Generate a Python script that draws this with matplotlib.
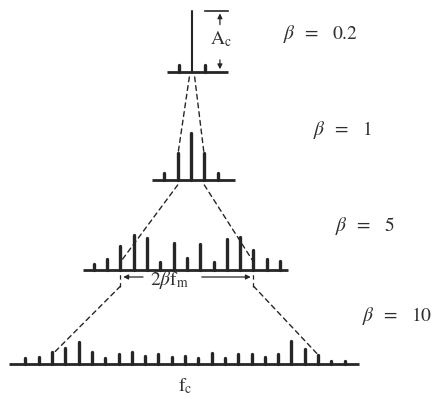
import matplotlib
matplotlib.use("Agg")
import matplotlib.pyplot as plt
from matplotlib.patches import ConnectionPatch

plt.rcParams["font.family"] = ["Liberation Serif", "DejaVu Serif"]
plt.rcParams["mathtext.fontset"] = "stix"

# Modulation indices, top to bottom
betas = [0.2, 1, 5, 10]
beta_labels = ["0.2", "1", "5", "10"]

# Spectral line order (multiples of f_m away from f_c) and relative amplitude
orders_02 = [-1, 0, 1]
amps_02 = [0.11, 0.99, 0.11]

orders_1 = [-2, -1, 0, 1, 2]
amps_1 = [0.11, 0.43, 0.76, 0.43, 0.11]

orders_5 = list(range(-7, 8))
amps_5 = [0.10, 0.17, 0.39, 0.56, 0.52, 0.13, 0.44, 0.19,
          0.42, 0.13, 0.50, 0.53, 0.32, 0.17, 0.14]

orders_10 = list(range(-12, 13))
amps_10 = [0.10, 0.11, 0.19, 0.26, 0.35, 0.19, 0.10, 0.16, 0.19, 0.13, 0.16, 0.11, 0.13,
           0.10, 0.18, 0.10, 0.16, 0.16, 0.11, 0.16, 0.37, 0.24, 0.15, 0.05, 0.05]

spectra = [(orders_02, amps_02), (orders_1, amps_1), (orders_5, amps_5), (orders_10, amps_10)]

# ---- layout (pixels) ----
W, H = 439, 403
PX_ORDER = 13.3      # horizontal pixels per f_m
PX_UNIT = 62.0       # vertical pixels per unit amplitude
ABOVE, BELOW = 75, 34
carrier_x = [192, 191, 187, 185]
baseline_y = [72, 180, 270, 364]
axis_span = [(-1.9, 2.7), (-2.9, 3.3), (-7.8, 7.6), (-13.2, 13.1)]
label_pos = [(283, 34), (313, 130), (335, 226), (362, 316)]

INK = "#262626"
TXT = "#2e2e2e"

fig = plt.figure(figsize=(W / 100, H / 100), dpi=100)
fig.patch.set_facecolor("white")

axes = []
for i, (orders, amps) in enumerate(spectra):
    cx, yb = carrier_x[i], baseline_y[i]
    ax = fig.add_axes([0, (H - yb - BELOW) / H, 1, (ABOVE + BELOW) / H])
    ax.set_xlim(-cx / PX_ORDER, (W - cx) / PX_ORDER)
    ax.set_ylim(-BELOW / PX_UNIT, ABOVE / PX_UNIT)
    ax.axis("off")
    ax.patch.set_alpha(0)

    lo, hi = axis_span[i]
    ax.plot([lo, hi], [0, 0], color=INK, lw=2.0, solid_capstyle="butt", clip_on=False)

    lw = [1.5 if (i == 0 and k == 0) else 2.4 for k in orders]
    bars = ax.vlines(orders, 0, amps, colors=INK, linewidths=lw, clip_on=False)
    bars.set_capstyle("round")
    axes.append(ax)

    lx, ly = label_pos[i]
    fig.text(lx / W, 1 - ly / H, r"$\beta\;\;=\;\;\;" + beta_labels[i] + "$",
             ha="left", va="center", fontsize=14, color=TXT)

ax1, ax2, ax3, ax4 = axes

# Carrier amplitude marker A_c
ac = amps_02[1]
ax1.plot([0.98, 2.7], [ac, ac], color=INK, lw=1.2, clip_on=False)
ax1.annotate("", xy=(2.1, ac), xytext=(2.1, 0.72),
             arrowprops=dict(arrowstyle="-|>", color=INK, lw=0.9, mutation_scale=7))
ax1.annotate("", xy=(2.1, 0.0), xytext=(2.1, 0.24),
             arrowprops=dict(arrowstyle="-|>", color=INK, lw=0.9, mutation_scale=7))
ax1.text(2.2, 0.53, r"$\mathrm{A_c}$", ha="center", va="center", fontsize=14, color=TXT)

# Bandwidth marker 2*beta*f_m on the beta = 5 spectrum
b5 = betas[2]
dash = (0, (3.5, 2.8))
ax3.vlines([-b5, b5], -0.27, 0.0, colors=INK, linewidths=0.9, linestyles=[dash], clip_on=False)
ax3.annotate("", xy=(-b5, -0.113), xytext=(-3.1, -0.113),
             arrowprops=dict(arrowstyle="-|>", color=INK, lw=0.9, mutation_scale=7))
ax3.annotate("", xy=(b5, -0.113), xytext=(0.9, -0.113),
             arrowprops=dict(arrowstyle="-|>", color=INK, lw=0.9, mutation_scale=7))
ax3.text(-1.3, -0.16, r"$2\beta\mathrm{f_m}$", ha="center", va="center", fontsize=14, color=TXT)

# Carrier frequency label
ax4.text(0, -0.36, r"$\mathrm{f_c}$", ha="center", va="center", fontsize=14, color=TXT)

# Dashed guides joining the +/- beta*f_m points of consecutive spectra
links = [
    (ax1, ax2, betas[0], betas[1], -0.08, 0.39),
    (ax2, ax3, betas[1], betas[2], -0.08, 0.13),
    (ax3, ax4, betas[2], betas[3], -0.26, 0.15),
]
for axA, axB, bA, bB, yA, yB in links:
    for s in (-1, 1):
        con = ConnectionPatch(xyA=(s * bA, yA), coordsA="data", axesA=axA,
                              xyB=(s * bB, yB), coordsB="data", axesB=axB,
                              color=INK, lw=1.0, linestyle=dash)
        fig.add_artist(con)

fig.savefig("out.png", dpi=100, facecolor="white")
